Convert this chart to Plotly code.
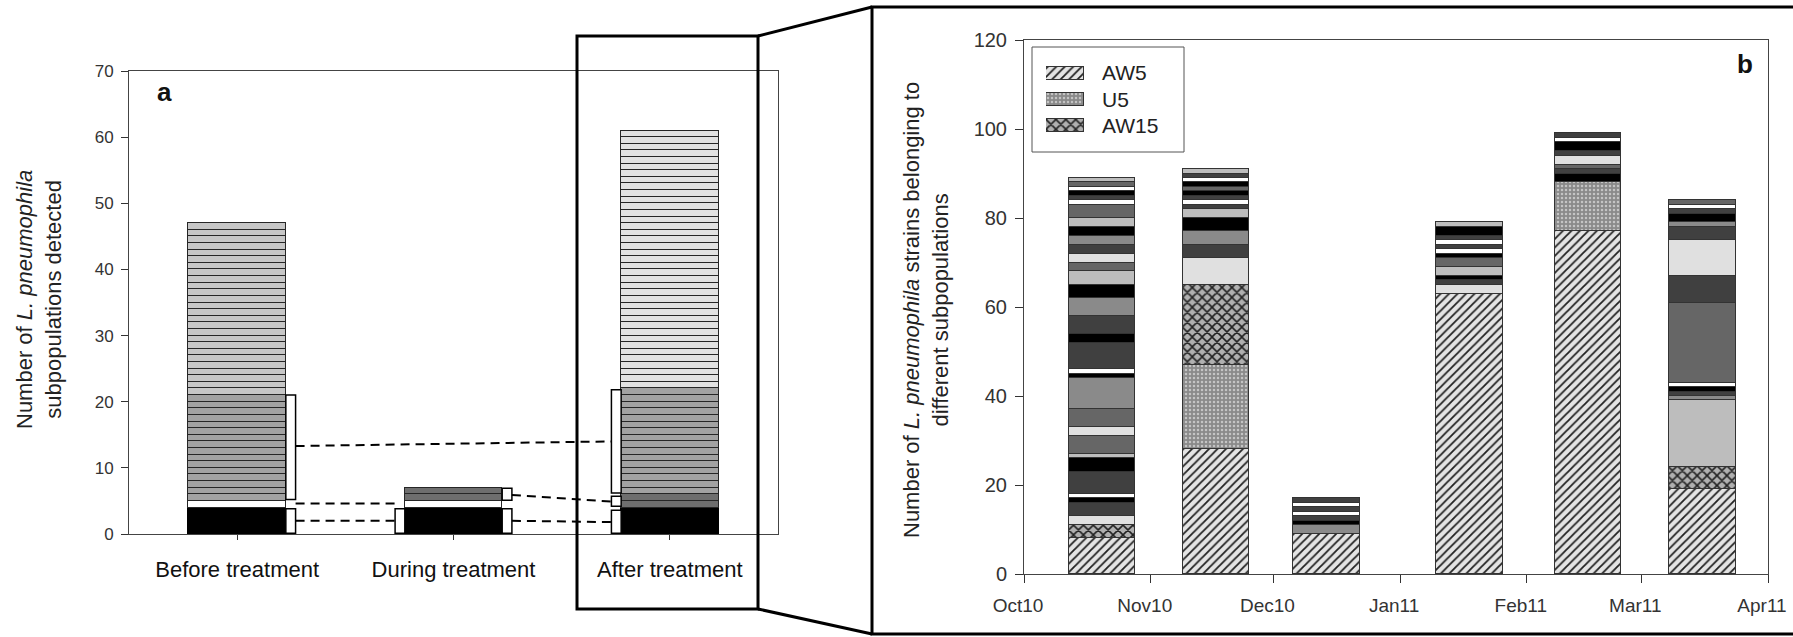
import plotly.graph_objects as go

W, H = 1793, 637

# ---------------- Panel a data ----------------
categories = ["Before treatment", "During treatment", "After treatment"]
before_groups = [("black", 4), ("white", 1), ("mid", 16), ("light", 26)]
during_groups = [("black", 4), ("white", 1), ("dark", 2)]
after_groups = [("black", 4), ("dark", 2), ("mid", 16), ("pale", 39)]
y_ticks_a = [0, 10, 20, 30, 40, 50, 60, 70]

# brackets beside bars: (category index, side -1 left / +1 right, y0, y1)
brackets = [(0, 1, 5.2, 21.0), (0, 1, 0.1, 3.8), (1, -1, 0.1, 3.8),
            (1, 1, 5.1, 6.9), (1, 1, 0.1, 3.8),
            (2, -1, 6.2, 21.8), (2, -1, 4.2, 5.7), (2, -1, 0.1, 3.6)]
# dashed links: (from cat, from side, y from, to cat, to side, y to)
links = [(0, 1, 13.3, 2, -1, 14.0), (0, 1, 4.6, 1, -1, 4.6), (0, 1, 2.0, 1, -1, 2.0),
         (1, 1, 5.9, 2, -1, 4.9), (1, 1, 2.0, 2, -1, 1.8)]

# ---------------- Panel b data ----------------
sample_dates = ["2010-10-20", "2010-11-17", "2010-12-14", "2011-01-18", "2011-02-16", "2011-03-16"]
oct10 = [("AW5", 8), ("AW15", 3), ("vl", 2), ("d", 3), ("k", 1), ("w", 1), ("d", 5), ("k", 3), ("l", 1),
         ("m", 4), ("vl", 2), ("m", 4), ("g", 7), ("k", 1), ("w", 1), ("d", 6), ("k", 2), ("d", 4),
         ("g", 4), ("k", 3), ("l", 3), ("m", 2), ("vl", 2), ("d", 2), ("g", 2), ("k", 2), ("l", 2),
         ("m", 3), ("w", 1), ("d", 1), ("k", 1), ("w", 1), ("m", 1), ("l", 1)]
nov10 = [("AW5", 28), ("U5", 19), ("AW15", 18), ("vl", 6), ("d", 3), ("g", 3), ("k", 3), ("l", 2),
         ("d", 1), ("w", 1), ("d", 1), ("k", 1), ("m", 1), ("k", 1), ("w", 1), ("d", 1), ("l", 1)]
dec10 = [("AW5", 9), ("g", 2), ("k", 1), ("d", 1), ("w", 1), ("d", 1), ("w", 1), ("d", 1)]
jan11 = [("AW5", 63), ("vl", 2), ("d", 1), ("k", 1), ("l", 2), ("m", 2), ("k", 1), ("w", 1), ("d", 1),
         ("w", 1), ("d", 1), ("k", 2), ("l", 1)]
feb11 = [("AW5", 77), ("U5", 11), ("k", 2), ("d", 1), ("m", 1), ("vl", 2), ("d", 1), ("k", 2), ("w", 1), ("d", 1)]
mar11 = [("AW5", 19), ("AW15", 5), ("l", 15), ("g", 1), ("d", 1), ("k", 1), ("w", 1), ("m", 18), ("d", 6),
         ("vl", 8), ("d", 3), ("g", 1), ("k", 2), ("d", 1), ("w", 1), ("m", 1)]
samples = [oct10, nov10, dec10, jan11, feb11, mar11]
month_ticks = ["2010-10-01", "2010-11-01", "2010-12-01", "2011-01-01", "2011-02-01", "2011-03-01", "2011-04-01"]
month_labels = ["Oct10", "Nov10", "Dec10", "Jan11", "Feb11", "Mar11", "Apr11"]
y_ticks_b = [0, 20, 40, 60, 80, 100, 120]
legend_names = ["AW5", "U5", "AW15"]

# ---------------- styles ----------------
FONT = "Liberation Sans, Arial, sans-serif"
colors_a = {"black": "#000000", "white": "#ffffff", "dark": "#6e6e6e", "mid": "#a2a2a2",
            "light": "#c6c6c6", "pale": "#e2e2e2"}
solid_b = {"k": "#000000", "d": "#404040", "m": "#666666", "g": "#8a8a8a", "l": "#bdbdbd",
           "vl": "#e0e0e0", "w": "#ffffff"}
patterns_b = {"AW5": dict(shape="/", bgcolor="#e4e4e4", fgcolor="#222222", size=6, solidity=0.3),
              "U5": dict(shape=".", bgcolor="#8a8a8a", fgcolor="#c4c4c4", size=4, solidity=0.3),
              "AW15": dict(shape="x", bgcolor="#b0b0b0", fgcolor="#222222", size=7, solidity=0.4)}


def px(x):
    return x / W


def py(y):
    return 1 - y / H


BAR_W_A = 0.45
BR_W = 0.045
DAY_MS = 86400000
BAR_W_B = 16.2 * DAY_MS


def pattern_marker(code):
    p = patterns_b[code]
    return dict(color=p["bgcolor"], line=dict(color="#333333", width=1),
                pattern=dict(shape=p["shape"], bgcolor=p["bgcolor"], fgcolor=p["fgcolor"],
                             size=p["size"], solidity=p["solidity"], fillmode="replace"))


fig = go.Figure()

# Panel a bars: one unit-high segment per subpopulation
for ci, groups in enumerate([before_groups, during_groups, after_groups]):
    for name, n in groups:
        for _ in range(n):
            lc = "#000000" if name == "black" else "#262626"
            fig.add_trace(go.Bar(x=[ci], y=[1], width=BAR_W_A, xaxis="x", yaxis="y",
                                 marker=dict(color=colors_a[name], line=dict(color=lc, width=1)),
                                 showlegend=False, hoverinfo="skip"))

# Panel b bars
for d, segs in zip(sample_dates, samples):
    for code, n in segs:
        if code in patterns_b:
            mk = pattern_marker(code)
        else:
            mk = dict(color=solid_b[code], line=dict(color="#333333", width=1))
        fig.add_trace(go.Bar(x=[d], y=[n], width=BAR_W_B, xaxis="x2", yaxis="y2", marker=mk,
                             showlegend=False, hoverinfo="skip"))

# Legend swatches (small subplot), one trace per entry
for i, name in enumerate(legend_names):
    fig.add_trace(go.Bar(x=[1], y=[i], orientation="h", width=0.5, xaxis="x3", yaxis="y3",
                         marker=pattern_marker(name), showlegend=False, hoverinfo="skip"))

shapes = []
for ci, side, y0, y1 in brackets:
    xa = ci + side * BAR_W_A / 2
    xb = xa + side * BR_W
    shapes.append(dict(type="rect", xref="x", yref="y", x0=min(xa, xb), x1=max(xa, xb), y0=y0, y1=y1,
                       fillcolor="white", line=dict(color="black", width=1.5)))
for c0, s0, ya, c1, s1, yb in links:
    x0 = c0 + s0 * (BAR_W_A / 2 + BR_W)
    x1 = c1 + s1 * (BAR_W_A / 2 + BR_W)
    shapes.append(dict(type="line", xref="x", yref="y", x0=x0, x1=x1, y0=ya, y1=yb,
                       line=dict(color="black", width=2, dash="9px,6px")))
shapes.append(dict(type="rect", xref="paper", yref="paper", x0=px(577), x1=px(758), y0=py(609), y1=py(36),
                   line=dict(color="black", width=3)))
shapes.append(dict(type="line", xref="paper", yref="paper", x0=px(758), y0=py(36), x1=px(872), y1=py(7),
                   line=dict(color="black", width=3)))
shapes.append(dict(type="line", xref="paper", yref="paper", x0=px(758), y0=py(609), x1=px(872), y1=py(634),
                   line=dict(color="black", width=3)))
shapes.append(dict(type="rect", xref="paper", yref="paper", x0=px(872), x1=px(1805), y0=py(634), y1=py(7),
                   line=dict(color="black", width=3)))
shapes.append(dict(type="rect", xref="paper", yref="paper", x0=px(1032), x1=px(1184), y0=py(152), y1=py(47),
                   line=dict(color="#555555", width=1)))

annotations = [
    dict(text="Number of <i>L. pneumophila</i><br>subpopulations detected", xref="paper", yref="paper",
         x=px(39), y=py(300), textangle=-90, showarrow=False, xanchor="center", yanchor="middle",
         font=dict(size=22, color="#222222", family=FONT)),
    dict(text="Number of <i>L. pneumophila</i> strains belonging to<br>different subpopulations",
         xref="paper", yref="paper", x=px(926), y=py(310), textangle=-90, showarrow=False,
         xanchor="center", yanchor="middle", font=dict(size=22, color="#222222", family=FONT)),
    dict(text="<b>a</b>", xref="paper", yref="paper", x=px(164), y=py(92), showarrow=False,
         xanchor="center", yanchor="middle", font=dict(size=26, color="#111111", family=FONT)),
    dict(text="<b>b</b>", xref="paper", yref="paper", x=px(1745), y=py(64), showarrow=False,
         xanchor="center", yanchor="middle", font=dict(size=26, color="#111111", family=FONT)),
]
for i, name in enumerate(legend_names):
    annotations.append(dict(text=name, xref="paper", yref="paper", x=px(1100), y=py(73 + 26 * i),
                            showarrow=False, xanchor="left", yanchor="middle",
                            font=dict(size=21, color="#222222", family=FONT)))

axis_common = dict(showgrid=False, zeroline=False, showline=True, linecolor="#444444", linewidth=1,
                   mirror=True, ticks="outside", tickcolor="#333333", automargin=False)

fig.update_layout(
    template="none",
    width=W, height=H, margin=dict(l=0, r=0, t=0, b=0, pad=0, autoexpand=False),
    paper_bgcolor="white", plot_bgcolor="white",
    barmode="stack", bargap=0, showlegend=False,
    font=dict(family=FONT, color="#333333"),
    xaxis=dict(domain=[px(129), px(778)], range=[-0.5, 2.5], tickvals=[0, 1, 2], ticktext=categories,
               ticklen=5, tickfont=dict(size=22, color="#111111"), ticklabelstandoff=11, anchor="y",
               **axis_common),
    yaxis=dict(domain=[py(534), py(71)], range=[0, 70], tickvals=y_ticks_a, ticklen=7,
               tickfont=dict(size=17, color="#333333"), ticklabelstandoff=4, anchor="x", **axis_common),
    xaxis2=dict(domain=[px(1024), px(1768)], type="date", range=["2010-10-01", "2011-04-01"],
                tickvals=month_ticks, ticktext=month_labels, ticklen=8, ticklabeloverflow="allow",
                ticklabelshift=-6,
                tickfont=dict(size=19, color="#333333"), ticklabelstandoff=6, anchor="y2", **axis_common),
    yaxis2=dict(domain=[py(574), py(40)], range=[0, 120], tickvals=y_ticks_b, ticklen=8,
                tickfont=dict(size=20, color="#333333"), ticklabelstandoff=4, anchor="x2", **axis_common),
    xaxis3=dict(domain=[px(1046), px(1084)], range=[0, 1], visible=False, anchor="y3"),
    yaxis3=dict(domain=[py(138), py(60)], range=[2.5, -0.5], visible=False, anchor="x3"),
    shapes=shapes, annotations=annotations,
)

fig.write_html("out.html", config={"displayModeBar": False},
               post_script="document.body.style.margin='0';document.body.style.overflow='hidden';")
